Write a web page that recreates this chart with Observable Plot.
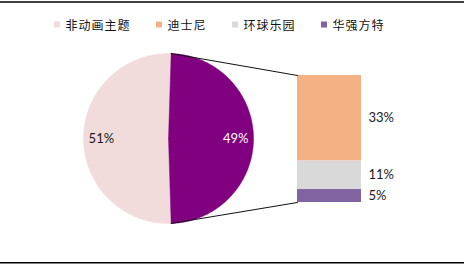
<!DOCTYPE html>
<html>
<head>
<meta charset="utf-8">
<script src="https://cdn.jsdelivr.net/npm/d3@7"></script>
<script src="https://cdn.jsdelivr.net/npm/@observablehq/plot@0.6"></script>
<style>
  html, body { margin: 0; padding: 0; background: #fff; }
  #chart { width: 464px; height: 266px; }
  g[font-family*="CJK"] text { letter-spacing: 1px; }
</style>
</head>
<body>
<div id="chart"></div>
<script>
// ---- data ----
const categories = ["非动画主题", "迪士尼", "环球乐园", "华强方特"];
const legendColors = ["#F2DCDB", "#F4B183", "#D9D9D9", "#8064A2"];
const pieNames = ["非动画主题", "动画主题"];
const pieValues = [51, 49];
const pieColors = ["#F2DCDB", "#800080"];
const pieLabelColors = ["#1a1a1a", "#ffffff"];
const barNames = ["迪士尼", "环球乐园", "华强方特"];
const barValues = [33, 11, 5];
const barColors = ["#F4B183", "#D9D9D9", "#8064A2"];

// ---- layout ----
const W = 464, H = 266;
const cx = 168, cy = 138, R = 85;
const barX1 = 297, barX2 = 361, barTop = 75, barBottom = 202;

// pie geometry (other group centred at 3 o'clock)
const otherShare = pieValues[1] / d3.sum(pieValues);
const pie = d3.pie().sort(null).startAngle(Math.PI / 2 + Math.PI * otherShare)
  .endAngle(Math.PI / 2 + Math.PI * otherShare + 2 * Math.PI);
const arcs = pie(pieValues);
const px = a => cx + R * Math.sin(a);
const py = a => cy - R * Math.cos(a);

const slicePts = [];
arcs.forEach((a, i) => {
  const n = 240;
  slicePts.push({k: i, x: cx, y: cy, c: pieColors[i]});
  for (let j = 0; j <= n; j++) {
    const t = a.startAngle + (a.endAngle - a.startAngle) * j / n;
    slicePts.push({k: i, x: px(t), y: py(t), c: pieColors[i]});
  }
  slicePts.push({k: i, x: cx, y: cy, c: pieColors[i]});
});
const pieLabels = arcs.map((a, i) => {
  const m = (a.startAngle + a.endAngle) / 2;
  return {x: cx + 0.79 * R * Math.sin(m), y: cy - 0.79 * R * Math.cos(m), t: pieValues[i] + "%", c: pieLabelColors[i]};
});

// bar geometry
const unit = (barBottom - barTop) / d3.sum(barValues);
let acc = barTop;
const barRects = barValues.map((v, i) => {
  const r = {y1: acc, y2: acc + v * unit, x1: barX1, x2: barX2, c: barColors[i], t: v + "%"};
  acc += v * unit;
  return r;
});

// connectors from other-slice edges to bar corners
const oa = arcs[1];
const connectors = [
  {k: 0, x: px(oa.startAngle), y: py(oa.startAngle)}, {k: 0, x: barX1, y: barTop},
  {k: 1, x: px(oa.endAngle), y: py(oa.endAngle)}, {k: 1, x: barX1, y: barBottom}
];

// legend layout
const charW = 13;
let lx = 54;
const legend = categories.map((name, i) => {
  const item = {sx: lx, tx: lx + 11, name, c: legendColors[i]};
  lx = item.tx + name.length * charW + 26;
  return item;
});

const chart = Plot.plot({
  width: W, height: H,
  margin: 0,
  x: {domain: [0, W], range: [0, W], axis: null},
  y: {domain: [0, H], range: [0, H], axis: null},
  style: {background: "#fff"},
  marks: [
    Plot.ruleY([1.5, 262.3], {stroke: "#000", strokeWidth: 1.5}),
    Plot.line(slicePts, {x: "x", y: "y", z: "k", fill: "c", stroke: "c", strokeWidth: 0.5, curve: "linear"}),
    Plot.rect(barRects, {x1: "x1", x2: "x2", y1: "y1", y2: "y2", fill: "c"}),
    Plot.line(connectors, {x: "x", y: "y", z: "k", stroke: "#111", strokeWidth: 1}),
    Plot.text(pieLabels, {x: "x", y: "y", text: "t", fill: "c", fontSize: 13, fontFamily: "Lato, 'Open Sans', sans-serif", textAnchor: "middle"}),
    Plot.text(barRects, {x: barX2 + 7, y: d => (d.y1 + d.y2) / 2, text: "t", fill: "#1a1a1a", fontSize: 13, fontFamily: "Lato, 'Open Sans', sans-serif", textAnchor: "start"}),
    Plot.rect(legend, {x1: "sx", x2: d => d.sx + 6, y1: 21.5, y2: 27.5, fill: "c"}),
    Plot.text(legend, {x: "tx", y: 26, text: "name", fill: "#111", fontSize: 12, fontFamily: "'Noto Sans CJK SC', sans-serif", textAnchor: "start"})
  ]
});
document.getElementById("chart").appendChild(chart);
</script>
</body>
</html>
